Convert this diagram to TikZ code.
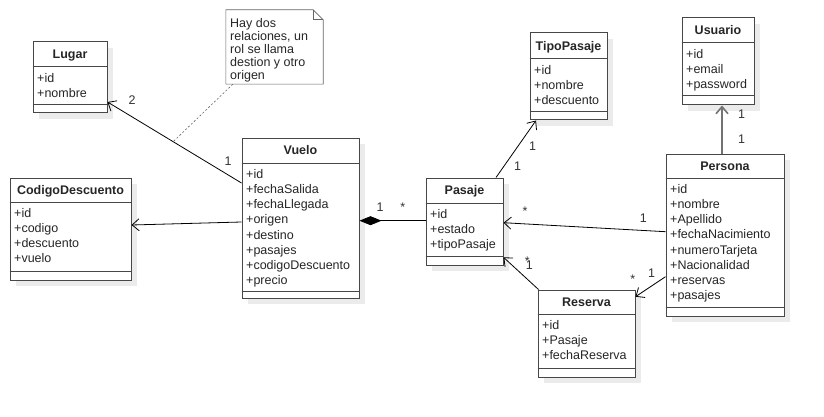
\documentclass[tikz,border=0pt]{standalone}
\usepackage{fontspec}
\setmainfont{Liberation Sans}
\usetikzlibrary{arrows.meta,shadows,fit}
\tikzset{
  cls/.style={draw=black!72, line width=1pt, fill=white, inner sep=0pt,
    drop shadow={shadow xshift=6pt, shadow yshift=-6pt, fill=black!8, opacity=1}},
  sepline/.style={draw=black!72, line width=1pt},
  ttl/.style={font=\fontsize{12.5}{15.2}\selectfont\bfseries, text=black!85, inner sep=0pt, anchor=base},
  attr/.style={font=\fontsize{12.5}{15.2}\selectfont, text=black!85, inner sep=0pt, anchor=north west, align=left},
  notetext/.style={font=\fontsize{12.5}{13}\selectfont, text=black!85, inner sep=0pt, anchor=north west, align=left},
  mult/.style={font=\fontsize{12.5}{15.2}\selectfont, text=black!80, inner sep=0pt, anchor=base},
  assoc/.style={draw=black, line width=0.8pt, -{Straight Barb[length=7pt,width=12pt]}},
  assocgray/.style={draw=black!55, line width=1.6pt, -{Straight Barb[length=7pt,width=12pt]}},
  comp/.style={draw=black, line width=0.8pt, {Diamond[length=22pt,width=9pt]}-},
  noteline/.style={draw=black!60, line width=0.6pt},
  notelink/.style={draw=black!60, line width=0.6pt, dash pattern=on 2pt off 2pt},
}
\newcommand\umlcls[9]{%
  \node[cls, fit={(#2,#3)(#4,#5)}] (#1) {};
  \draw[sepline] (#1.west |- 0,#6) -- (#1.east |- 0,#6);
  \draw[sepline] (#1.west |- 0,#7) -- (#1.east |- 0,#7);
  \node[ttl] (#1t) at ({(#2+#4)/2},{(#3+#6)/2+4.3}) {#8};
  \node[attr] (#1a) at (#2+4,#6+4.4) {\strut #9};
}
\begin{document}
\begin{tikzpicture}[x=1pt,y=-1pt]
\path[use as bounding box, fill=white] (0,0) rectangle (824,417);

\umlcls{lugar}{33}{42}{107}{113}{67}{105}{Lugar}{+id\\+nombre}
\umlcls{cod}{10}{178}{131}{280}{202}{271}{CodigoDescuento}{+id\\+codigo\\+descuento\\+vuelo}
\umlcls{vuelo}{242}{138}{359}{298}{163}{291}{Vuelo}{+id\\+fechaSalida\\+fechaLlegada\\+origen\\+destino\\+pasajes\\+codigoDescuento\\+precio}
\umlcls{tipo}{530}{33}{607}{120}{59}{112}{TipoPasaje}{+id\\+nombre\\+descuento}
\umlcls{usuario}{682}{18}{754}{105}{43}{96}{Usuario}{+id\\+email\\+password}
\umlcls{pasaje}{426}{178}{503}{265}{203}{256}{Pasaje}{+id\\+estado\\+tipoPasaje}
\umlcls{persona}{666}{154}{784}{316}{178}{307}{Persona}{+id\\+nombre\\+Apellido\\+fechaNacimiento\\+numeroTarjeta\\+Nacionalidad\\+reservas\\+pasajes}
\umlcls{reserva}{538}{290}{635}{377}{314}{368}{Reserva}{+id\\+Pasaje\\+fechaReserva}

% note
\node[fit={(226,10)(323,84)}, inner sep=0pt] (note) {};
\draw[noteline, fill=white] (note.north west) -- ([xshift=-10pt]note.north east)
  -- ([yshift=-10pt]note.north east) -- (note.south east) -- (note.south west) -- cycle;
\draw[noteline] ([xshift=-10pt]note.north east) -- ([xshift=-10pt,yshift=-10pt]note.north east)
  -- ([yshift=-10pt]note.north east);
\node[notetext] (notetxt) at (230,18.2) {\strut Hay dos\\relaciones, un\\rol se llama\\destion y otro\\origen};

% connectors
\draw[assoc] (vuelo.west |- 0,183) -- coordinate[pos=0.51] (lm) (lugar.east |- 0,102);
\draw[notelink] ([xshift=7pt]note.south west) -- (lm);
\draw[assoc] (vuelo.west |- 0,222) -- (cod.east |- 0,225);
\draw[comp] (vuelo.east |- 0,220.7) -- (pasaje.west |- 0,220.7);
\draw[assoc] (pasaje.north -| 496,0) -- (tipo.south -| 536,0);
\draw[assocgray] (persona.north -| 722,0) -- (usuario.south -| 722,0);
\draw[assoc] (persona.west |- 0,231.7) -- (pasaje.east |- 0,222.7);
\draw[assoc] ([xshift=1pt]reserva.north west) -- (pasaje.east |- 0,257.3);
\draw[assoc] (persona.west |- 0,276.7) -- (reserva.east |- 0,296.7);

% multiplicities
\node[mult] (m1) at (132,104.5) {2};
\node[mult] (m2) at (228,165) {1};
\node[mult] (m3) at (380,211.7) {1};
\node[mult] (m4) at (402.7,211.7) {*};
\node[mult] (m5) at (532.7,150) {1};
\node[mult] (m6) at (517.5,170) {1};
\node[mult] (m7) at (741.7,118) {1};
\node[mult] (m8) at (741.7,143) {1};
\node[mult] (m9) at (525,215) {*};
\node[mult] (m10) at (643.3,222.7) {1};
\node[mult] (m11) at (527.3,265.7) {*};
\node[mult] (m12) at (529.3,269) {1};
\node[mult] (m13) at (632.7,283.3) {*};
\node[mult] (m14) at (651.7,277.3) {1};
\end{tikzpicture}
\end{document}
